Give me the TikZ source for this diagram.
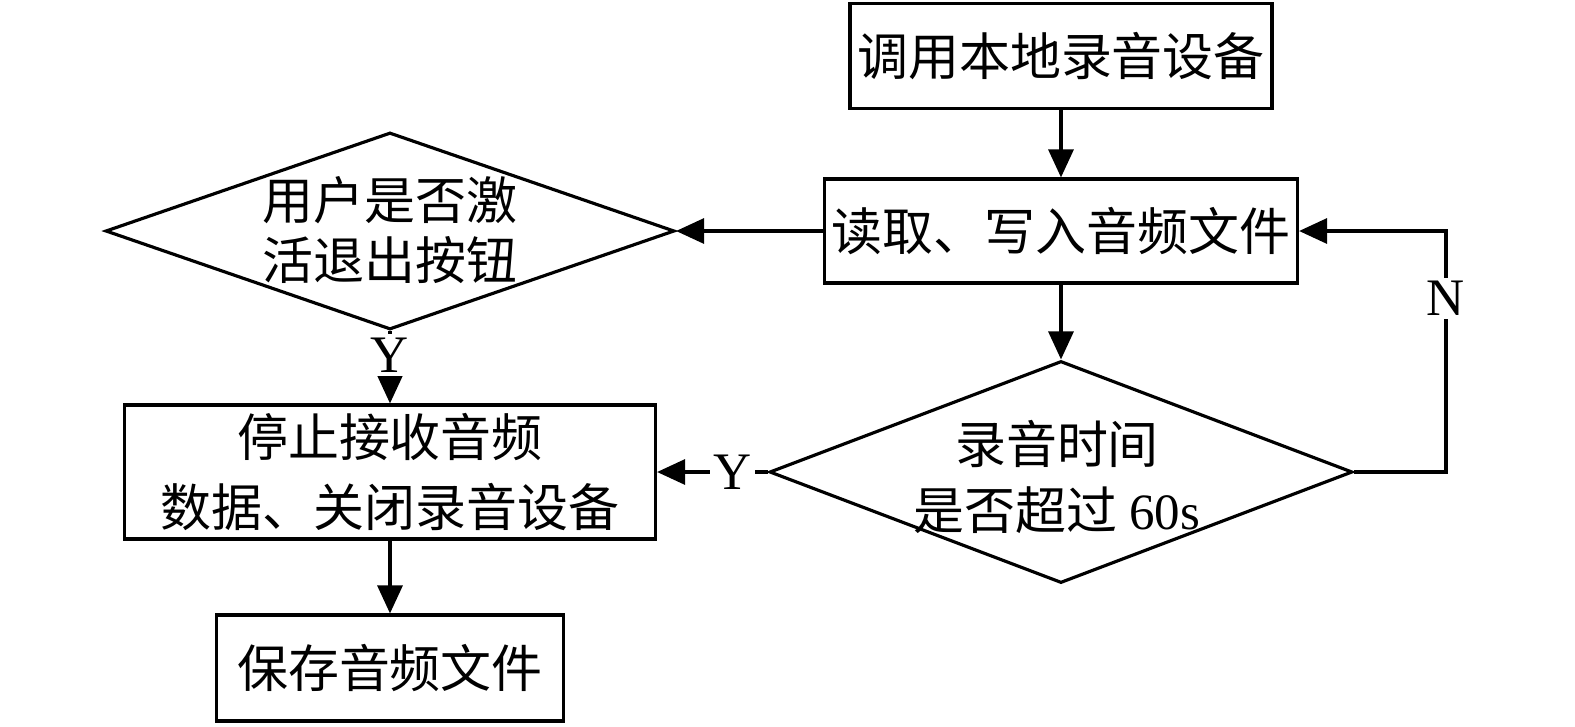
\documentclass[tikz,border=0pt]{standalone}
\usepackage{fontspec}
\setmainfont{Liberation Serif}
\newfontfamily\cjk{Noto Sans CJK SC}
\usepackage{tikz}
\usetikzlibrary{shapes.geometric,arrows.meta,positioning}

\begin{document}
\begin{tikzpicture}[
    box/.style={draw, line width=0.9pt, inner sep=0pt, align=center},
    decide/.style={draw, diamond, line width=0.9pt, inner sep=0pt},
    txt/.style={font=\cjk\fontsize{14.5}{18}\selectfont, align=center},
    flow/.style={line width=0.9pt, -{Triangle[length=0.28cm,width=0.25cm]}},
    lbl/.style={fill=white, inner sep=1pt, font=\fontsize{15}{18}\selectfont}]
    \useasboundingbox (0,0) rectangle (15.75,7.26);

    % Recording loop
    \node[box, txt, minimum width=4.22cm, minimum height=1.05cm] (call) at (10.61,6.70) {调用本地录音设备};
    \node[box, txt, minimum width=4.73cm, minimum height=1.04cm] (rw) at (10.61,4.95) {读取、写入音频文件};
    \node[decide, minimum width=5.83cm, minimum height=2.22cm] (timeout) at (10.61,2.54) {};
    \node[txt, font=\cjk\fontsize{14.5}{19}\selectfont] (timeouttxt) at (10.57,2.49) {录音时间\\是否超过 {\rmfamily 60s}};

    % User exit
    \node[decide, minimum width=5.69cm, minimum height=1.97cm] (exit) at (3.90,4.95) {};
    \node[txt, font=\cjk\fontsize{14.5}{17}\selectfont] (exittxt) at (3.90,4.96) {用户是否激\\活退出按钮};

    % Stop and save
    \node[box, txt, font=\cjk\fontsize{14.5}{20}\selectfont, minimum width=5.31cm, minimum height=1.34cm] (stop) at (3.90,2.54) {停止接收音频\\数据、关闭录音设备};
    \node[box, txt, minimum width=3.47cm, minimum height=1.06cm] (save) at (3.90,0.58) {保存音频文件};

    % Arrows
    \coordinate (nloop) at (14.46,2.54);
    \draw[flow] (call) -- (rw);
    \draw[flow] (rw) -- (exit.east);
    \draw[flow] (rw) -- (timeout.north);
    \draw[flow] (timeout.west) -- node[lbl, pos=0.32] (ytime) {Y} (stop);
    \draw[flow] (exit.south) -- node[lbl, pos=0.33] (yexit) {Y} (stop);
    \draw[flow] (stop) -- (save);
    \draw[flow] (timeout.east) -- (nloop) |- node[lbl, pos=0.36] (nlbl) {N} (rw.east);
\end{tikzpicture}
\end{document}
